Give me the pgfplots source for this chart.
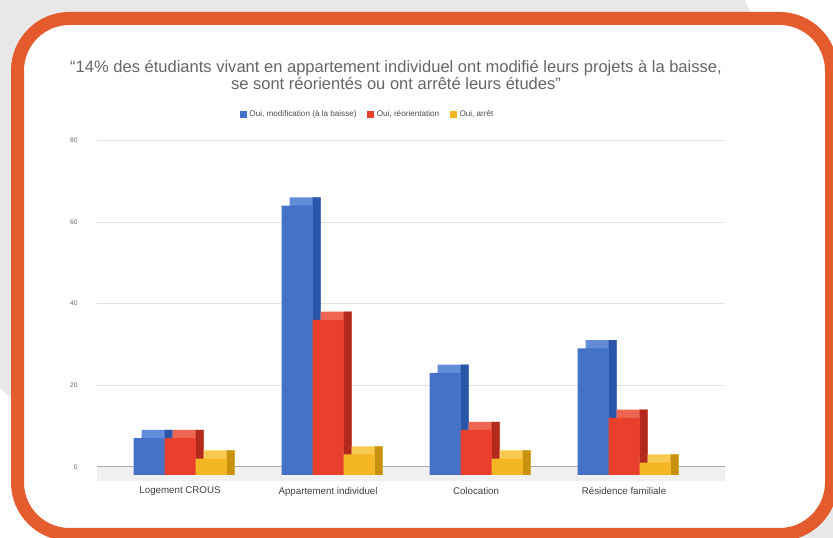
\documentclass[border=0pt]{standalone}
\usepackage{pgfplots}
\usepackage{pgfplotstable}
\pgfplotsset{compat=1.18}
\usepackage{fontspec}
\setmainfont{Liberation Sans}

\definecolor{frameorange}{HTML}{E45C2E}
\definecolor{bggray}{HTML}{E8E8E8}
\definecolor{titlegray}{HTML}{666666}
\definecolor{bluefront}{HTML}{4372C8}
\definecolor{bluetop}{HTML}{628BD8}
\definecolor{blueside}{HTML}{2A55A8}
\definecolor{redfront}{HTML}{E8402D}
\definecolor{redtop}{HTML}{EE6652}
\definecolor{redside}{HTML}{B32A1C}
\definecolor{yelfront}{HTML}{F5B623}
\definecolor{yeltop}{HTML}{F8CA50}
\definecolor{yelside}{HTML}{C8920F}

% values per housing type: modification, reorientation, arret
\pgfplotstableread{
x mod reo arr
0 9  9  4
1 66 38 5
2 25 11 4
3 31 14 3
}\housing

\pgfplotsset{face/.style={ybar, draw=none, forget plot}}

\begin{document}
\begin{tikzpicture}
\begin{scope}[x=0.75pt, y=0.75pt]
\useasboundingbox (0,0) rectangle (833,538);
\clip (0,0) rectangle (833,538);
% background and frame
\fill[bggray] (0,0) rectangle (833,538);
\fill[white] (745,538) -- (833,538) -- (833,330) -- cycle;
\fill[white] (0,150) -- (0,0) -- (160,0) -- cycle;
\draw[frameorange, fill=white, line width=9.75pt, rounded corners=39pt]
  (17.5,3.5) rectangle (831.5,519.5);
\node[font=\fontsize{12.4}{12.5}\selectfont, text=titlegray, align=center] at (396,463)
  {“14\% des étudiants vivant en appartement individuel ont modifié leurs projets à la baisse,\\
   se sont réorientés ou ont arrêté leurs études”};
\end{scope}

\begin{axis}[
  at={(72.75pt,42.75pt)}, anchor=south west,
  scale only axis, width=471pt, height=255.5pt,
  xmin=-0.561, xmax=3.682,
  ymin=-1.5, ymax=82,
  axis line style={draw=none},
  tick style={draw=none},
  xtick={0,1,2,3},
  xticklabels={Logement CROUS, Appartement individuel, Colocation, Résidence familiale},
  xticklabel style={font=\fontsize{7.3}{8}\selectfont, text=black!75, yshift=-1pt},
  ytick={2,22,42,62,82},
  yticklabels={0,20,40,60,80},
  yticklabel style={font=\fontsize{5}{6}\selectfont, text=black!60, xshift=-11pt},
  ymajorgrids,
  major grid style={gray!22, line width=0.6pt},
  extra y ticks={2},
  extra y tick labels={},
  extra y tick style={major grid style={gray!65, line width=0.8pt}},
  /pgf/number format/assume math mode=true,
  legend columns=3,
  legend style={at={(0.4315,1)}, anchor=center, yshift=19.5pt, draw=none, fill=none,
    font=\fontsize{6.1}{7}\selectfont, text=black!70,
    /tikz/every even column/.append style={column sep=6pt}},
  legend image code/.code={\fill[#1] (0pt,-2.6pt) rectangle (5.2pt,2.6pt);},
]
\fill[gray!12] (axis cs:-0.561,-1.5) rectangle (axis cs:3.682,2);

% blue series
\addplot[face, bar width=23.25pt, bar shift=-17.25pt, fill=bluetop] table[x=x, y expr=\thisrow{mod}+2] {\housing};
\addplot[face, bar width=6pt, bar shift=-8.625pt, fill=blueside] table[x=x, y expr=\thisrow{mod}+2] {\housing};
\addplot[ybar, draw=none, bar width=23.25pt, bar shift=-23.25pt, fill=bluefront] table[x=x, y=mod] {\housing};
\addlegendentry{Oui, modification (à la baisse)}

% red series
\addplot[face, bar width=23.25pt, bar shift=6pt, fill=redtop] table[x=x, y expr=\thisrow{reo}+2] {\housing};
\addplot[face, bar width=6pt, bar shift=14.625pt, fill=redside] table[x=x, y expr=\thisrow{reo}+2] {\housing};
\addplot[ybar, draw=none, bar width=23.25pt, bar shift=0pt, fill=redfront] table[x=x, y=reo] {\housing};
\addlegendentry{Oui, réorientation}

% yellow series
\addplot[face, bar width=23.25pt, bar shift=29.25pt, fill=yeltop] table[x=x, y expr=\thisrow{arr}+2] {\housing};
\addplot[face, bar width=6pt, bar shift=37.875pt, fill=yelside] table[x=x, y expr=\thisrow{arr}+2] {\housing};
\addplot[ybar, draw=none, bar width=23.25pt, bar shift=23.25pt, fill=yelfront] table[x=x, y=arr] {\housing};
\addlegendentry{Oui, arrêt}
\end{axis}
\end{tikzpicture}
\end{document}
